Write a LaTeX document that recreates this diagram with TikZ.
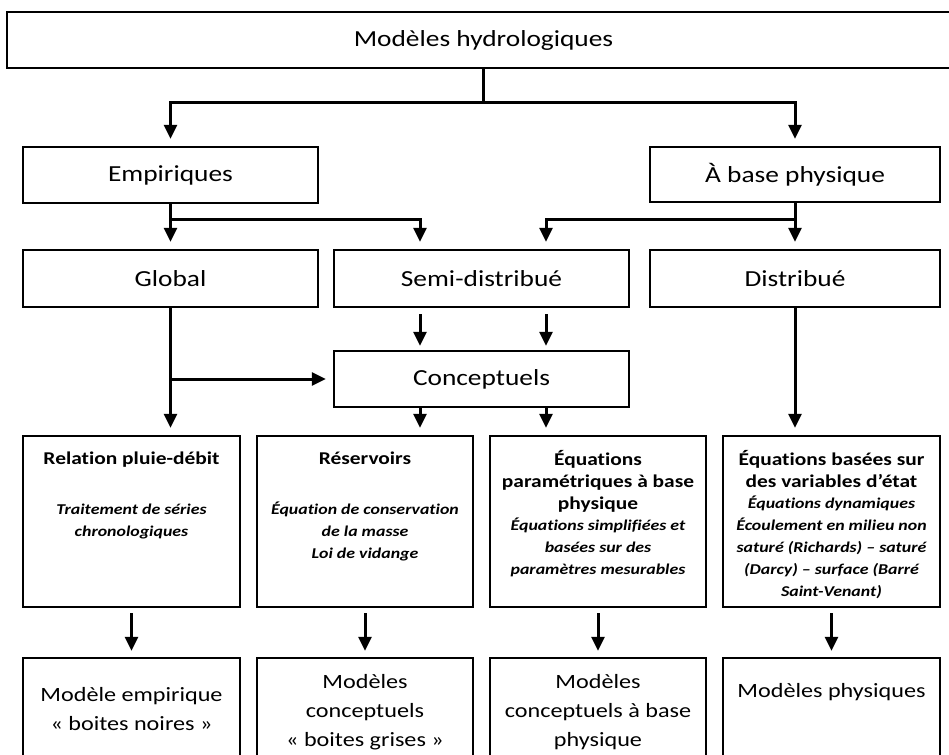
\documentclass[tikz,border=0pt]{standalone}
\usepackage{fontspec}
\setmainfont{Carlito}[FakeStretch=1.19, Ligatures=CommonOff]
\usetikzlibrary{arrows.meta}
\newcommand\myBig{\fontsize{23}{28}\selectfont}
\newcommand\myLow{\fontsize{20.3}{29}\selectfont}
\newcommand\myBold{\fontsize{18}{22}\selectfont\bfseries}
\newcommand\myItal{\fontsize{15}{22}\selectfont\bfseries\itshape}
\begin{document}
\begin{tikzpicture}[x=1pt,y=-1pt,
  box/.style={draw=black, line width=2.4pt, inner sep=0pt},
  arr/.style={line width=3pt, -{Triangle[length=14pt,width=13pt]}, shorten >=7pt},
  txt/.style={inner sep=0pt, align=center}]
\useasboundingbox (0,0) rectangle (949,754);
\clip (0,0) rectangle (949,754);
\fill[white] (0,0) rectangle (949,754);

% level 0 (runs past the right edge, as in the reference)
\node[box, minimum width=1000pt, minimum height=56pt] (top) at (507,40) {};
\node[txt, font=\myBig] (topt) at (483.5,40) {Modèles hydrologiques};
% level 1
\node[box, minimum width=295pt, minimum height=56pt, font=\myBig] (emp) at (170.5,175) {Empiriques};
\node[box, minimum width=290pt, minimum height=55pt, font=\myBig] (phys) at (795,174.5) {À base physique};
% level 2
\node[box, minimum width=295pt, minimum height=57pt, font=\myBig] (glob) at (170.5,278.5) {Global};
\node[box, minimum width=295pt, minimum height=57pt, font=\myBig] (semi) at (481.5,278.5) {Semi-distribué};
\node[box, minimum width=290pt, minimum height=57pt, font=\myBig] (dist) at (795,278.5) {Distribué};
% level 3
\node[box, minimum width=295pt, minimum height=56pt, font=\myBig] (conc) at (481.5,379) {Conceptuels};
% level 4
\node[box, minimum width=217pt, minimum height=171pt] (r1) at (131.5,521.5) {};
\node[box, minimum width=216pt, minimum height=171pt] (r2) at (365,521.5) {};
\node[box, minimum width=216pt, minimum height=171pt] (r3) at (598,521.5) {};
\node[box, minimum width=217pt, minimum height=171pt] (r4) at (831.5,521.5) {};
% level 5
\node[box, minimum width=217pt, minimum height=112pt] (b1) at (131.5,714) {};
\node[box, minimum width=216pt, minimum height=112pt] (b2) at (365,714) {};
\node[box, minimum width=216pt, minimum height=112pt] (b3) at (598,714) {};
\node[box, minimum width=217pt, minimum height=112pt] (b4) at (831.5,714) {};

% texts of level 4 (anchor=base is the baseline of the last line)
\node[txt, anchor=base, font=\myBold] (r1a) at (131.5,464) {Relation pluie-débit};
\node[txt, anchor=base, font=\myItal] (r1b) at (131.5,536) {Traitement de séries\\chronologiques};
\node[txt, anchor=base, font=\myBold] (r2a) at (365,464) {Réservoirs};
\node[txt, anchor=base, font=\myItal] (r2b) at (365,558) {Équation de conservation\\de la masse\\Loi de vidange};
\node[txt, anchor=base, font=\myBold] (r3a) at (598,509) {Équations\\paramétriques à base\\physique};
\node[txt, anchor=base, font=\myItal] (r3b) at (598,574) {Équations simplifiées et\\basées sur des\\paramètres mesurables};
\node[txt, anchor=base, font=\myBold] (r4a) at (831.5,487) {Équations basées sur\\des variables d’état};
\node[txt, anchor=base, font=\myItal] (r4b) at (831.5,596) {Équations dynamiques\\Écoulement en milieu non\\saturé (Richards) – saturé\\(Darcy) – surface (Barré\\Saint-Venant)};

% texts of level 5
\node[txt, font=\myLow] (b1t) at (131.5,709) {Modèle empirique\\« boites noires »};
\node[txt, font=\myLow] (b2t) at (365,712) {Modèles\\conceptuels\\« boites grises »};
\node[txt, font=\myLow] (b3t) at (598,712) {Modèles\\conceptuels à base\\physique};
\node[txt, font=\myLow] (b4t) at (831.5,692) {Modèles physiques};

% helper coordinates
\coordinate (tc) at (483.5,0);
\coordinate (y1) at (0,103);
\coordinate (y2) at (0,219);
\coordinate (sL) at (420,0);
\coordinate (sR) at (546,0);

% connectors
\draw[arr] (tc |- top.south) -- (tc |- y1) -| (emp.north);
\draw[arr] (tc |- top.south) -- (tc |- y1) -| (phys.north);
\draw[arr] (emp.south) -- (emp.south |- y2) -| (sL |- semi.north);
\draw[arr] (emp.south) -- (glob.north);
\draw[arr] (phys.south) -- (phys.south |- y2) -| (sR |- semi.north);
\draw[arr] (phys.south) -- (dist.north);
\draw[arr, shorten <=6pt, shorten >=4pt] (sL |- semi.south) -- (sL |- conc.north);
\draw[arr, shorten <=6pt, shorten >=4pt] (sR |- semi.south) -- (sR |- conc.north);
\draw[arr] (sL |- conc.south) -- (sL |- r2.north);
\draw[arr] (sR |- conc.south) -- (sR |- r3.north);
\draw[arr] (glob.south) -- (glob.south |- r1.north);
\draw[arr] (glob.south |- conc.west) -- (conc.west);
\draw[arr] (dist.south) -- (dist.south |- r4.north);
\draw[arr, shorten <=5pt, shorten >=6pt] (r1.south) -- (b1.north);
\draw[arr, shorten <=5pt, shorten >=6pt] (r2.south) -- (b2.north);
\draw[arr, shorten <=5pt, shorten >=6pt] (r3.south) -- (b3.north);
\draw[arr, shorten <=5pt, shorten >=6pt] (r4.south) -- (b4.north);
\end{tikzpicture}
\end{document}
